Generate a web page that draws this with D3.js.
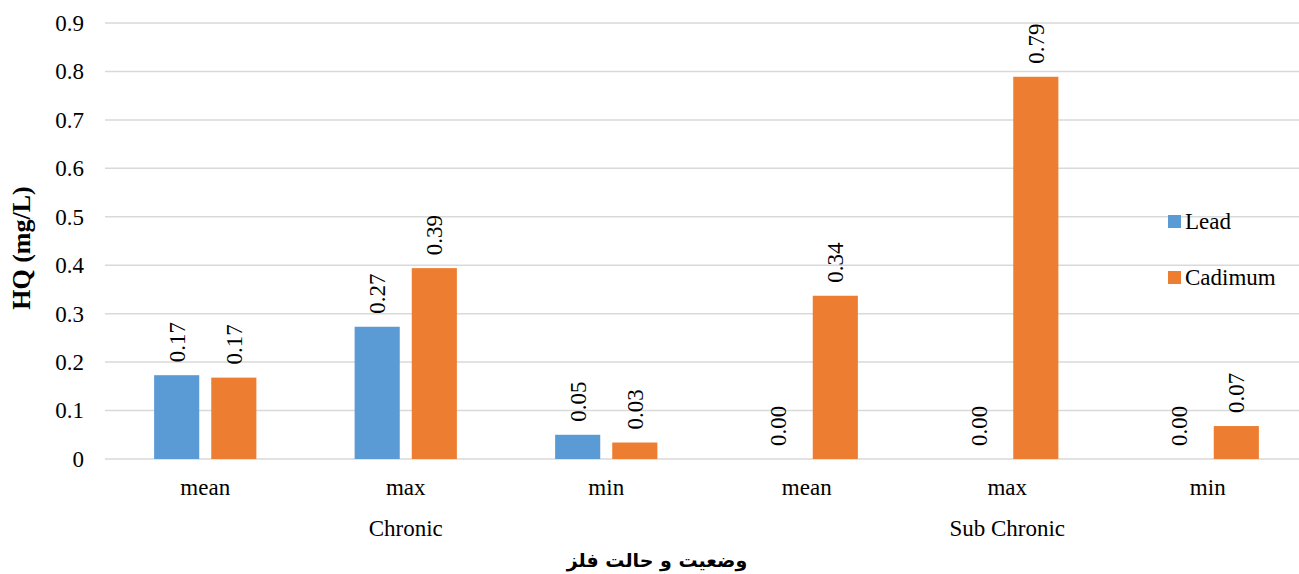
<!DOCTYPE html>
<html>
<head>
<meta charset="utf-8">
<script src="https://cdn.jsdelivr.net/npm/d3@7"></script>
<style>
body { margin: 0; background: #fff; }
</style>
</head>
<body>
<div id="chart-area"></div>
<script>
// data
var categories = ["mean", "max", "min", "mean", "max", "min"];
var groups = ["Chronic", "Sub Chronic"];
var seriesNames = ["Lead", "Cadimum"];
var leadValues = [0.173, 0.273, 0.050, 0, 0, 0];
var cadimumValues = [0.168, 0.394, 0.034, 0.337, 0.789, 0.068];
var yTicks = [0, 0.1, 0.2, 0.3, 0.4, 0.5, 0.6, 0.7, 0.8, 0.9];

var colors = { "Lead": "#5B9BD5", "Cadimum": "#ED7D31" };
var serif = "'Liberation Serif', 'Times New Roman', serif";
var fs = "23px";

var width = 1299, height = 574;
var plotLeft = 105, plotRight = 1308, plotTop = 23, plotBottom = 459;

var svg = d3.select("#chart-area")
    .append("svg")
    .attr("width", width)
    .attr("height", height)
    .style("font-family", serif);

var x0 = d3.scaleBand()
    .domain(d3.range(categories.length))
    .range([plotLeft, plotRight])
    .padding(0);

var bw = x0.bandwidth();
var x1 = d3.scaleBand()
    .domain(seriesNames)
    .range([bw * 0.245, bw * 0.755])
    .paddingInner(0.21);

var y = d3.scaleLinear()
    .domain([0, 0.9])
    .range([plotBottom, plotTop]);

// grid lines
svg.append("g")
    .selectAll("line")
    .data(yTicks)
    .enter().append("line")
    .attr("x1", plotLeft)
    .attr("x2", plotRight)
    .attr("y1", function(d) { return y(d); })
    .attr("y2", function(d) { return y(d); })
    .attr("stroke", "#d9d9d9")
    .attr("stroke-width", 1.5);

// y axis labels
var yAxis = d3.axisLeft(y).tickValues(yTicks).tickSize(0).tickPadding(21)
    .tickFormat(function(d) { return d === 0 ? "0" : d3.format(".1f")(d); });
var yG = svg.append("g")
    .attr("transform", "translate(" + plotLeft + ",0)")
    .call(yAxis);
yG.attr("font-family", null).attr("font-size", null);
yG.select(".domain").remove();
yG.selectAll("text")
    .attr("fill", "#000")
    .style("font-size", fs)
    .style("font-family", serif);

// bars
var rows = categories.map(function(c, i) {
    return { i: i, values: [
        { key: "Lead", value: leadValues[i] },
        { key: "Cadimum", value: cadimumValues[i] }
    ]};
});

var grp = svg.selectAll(".grp")
    .data(rows)
    .enter().append("g")
    .attr("class", "grp")
    .attr("transform", function(d) { return "translate(" + x0(d.i) + ",0)"; });

grp.selectAll("rect")
    .data(function(d) { return d.values; })
    .enter().append("rect")
    .attr("x", function(d) { return x1(d.key); })
    .attr("width", x1.bandwidth())
    .attr("y", function(d) { return y(d.value); })
    .attr("height", function(d) { return y(0) - y(d.value); })
    .attr("fill", function(d) { return colors[d.key]; });

grp.selectAll(".val")
    .data(function(d) { return d.values; })
    .enter().append("text")
    .attr("class", "val")
    .attr("transform", function(d) {
        var cx = x1(d.key) + x1.bandwidth() / 2;
        return "translate(" + cx + "," + (y(d.value) - 13) + ") rotate(-90)";
    })
    .attr("dy", "0.35em")
    .attr("text-anchor", "start")
    .style("font-size", fs)
    .style("font-family", serif)
    .text(function(d) { return d3.format(".2f")(d.value); });

// category labels
svg.append("g")
    .selectAll("text")
    .data(categories)
    .enter().append("text")
    .attr("x", function(d, i) { return x0(i) + bw / 2; })
    .attr("y", 495)
    .attr("text-anchor", "middle")
    .style("font-size", fs)
    .style("font-family", serif)
    .text(function(d) { return d; });

// group labels
svg.append("g")
    .selectAll("text")
    .data(groups)
    .enter().append("text")
    .attr("x", function(d, i) { return x0(i * 3 + 1) + bw / 2; })
    .attr("y", 536)
    .attr("text-anchor", "middle")
    .style("font-size", fs)
    .style("font-family", serif)
    .text(function(d) { return d; });

// axis titles
svg.append("text")
    .attr("x", 657)
    .attr("y", 567)
    .attr("text-anchor", "middle")
    .attr("direction", "rtl")
    .style("font-size", "19px")
    .style("font-weight", "bold")
    .style("font-family", "'DejaVu Sans', sans-serif")
    .text("وضعیت و حالت فلز");

svg.append("text")
    .attr("transform", "translate(30," + ((plotTop + plotBottom) / 2 + 7) + ") rotate(-90)")
    .attr("text-anchor", "middle")
    .style("font-size", "26px")
    .style("font-weight", "bold")
    .style("font-family", serif)
    .text("HQ (mg/L)");

// legend
var legend = svg.selectAll(".legend")
    .data(seriesNames)
    .enter().append("g")
    .attr("class", "legend")
    .attr("transform", function(d, i) { return "translate(1168," + (215 + i * 56) + ")"; });

legend.append("rect")
    .attr("width", 13)
    .attr("height", 13)
    .attr("fill", function(d) { return colors[d]; });

legend.append("text")
    .attr("x", 17)
    .attr("y", 14)
    .style("font-size", fs)
    .style("font-family", serif)
    .text(function(d) { return d; });
</script>
</body>
</html>
